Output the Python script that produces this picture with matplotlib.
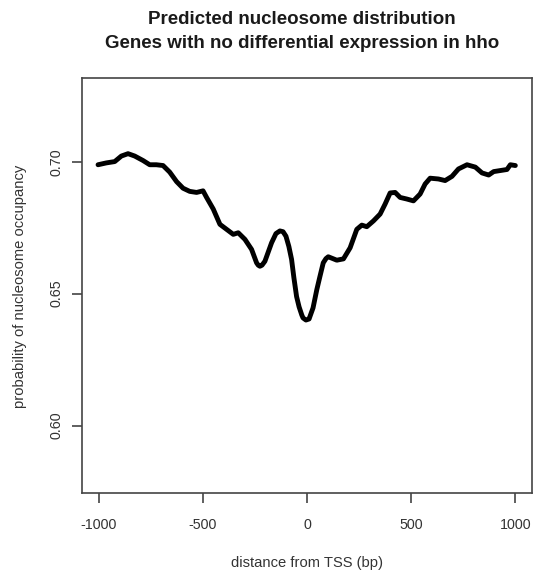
import matplotlib.pyplot as plt

plt.rcParams['font.family'] = ['Liberation Sans', 'DejaVu Sans']

# mean predicted occupancy around the TSS
distance = [-1003, -963, -923, -891, -859, -827, -787, -755, -723, -691,
            -659, -626, -595, -563, -530, -499, -482, -450, -418, -386,
            -354, -330, -298, -266, -242, -234, -226, -216, -202, -170,
            -149, -130, -115, -101, -87, -74, -63, -50, -38, -25,
            -19, -5, 10, 14, 29, 47, 62, 78, 91, 102,
            143, 175, 207, 239, 263, 287, 319, 351, 375, 399,
            423, 447, 479, 511, 543, 567, 591, 631, 663, 696,
            727, 768, 808, 840, 872, 896, 928, 960, 976, 1000]
occupancy = [0.6989, 0.6996, 0.7001, 0.7022, 0.7031, 0.7022, 0.7005, 0.6989, 0.6989, 0.6986,
             0.6961, 0.6925, 0.6900, 0.6888, 0.6884, 0.6890, 0.6865, 0.6821, 0.6763, 0.6744,
             0.6725, 0.6731, 0.6706, 0.6668, 0.6617, 0.6608, 0.6604, 0.6608, 0.6623, 0.6693,
             0.6728, 0.6738, 0.6735, 0.6718, 0.6679, 0.6630, 0.6561, 0.6489, 0.6450, 0.6419,
             0.6408, 0.6400, 0.6404, 0.6413, 0.6446, 0.6515, 0.6565, 0.6617, 0.6633, 0.6640,
             0.6627, 0.6632, 0.6674, 0.6744, 0.6760, 0.6754, 0.6776, 0.6802, 0.6840, 0.6882,
             0.6884, 0.6865, 0.6859, 0.6852, 0.6878, 0.6916, 0.6938, 0.6935, 0.6929, 0.6945,
             0.6973, 0.6989, 0.6980, 0.6958, 0.6950, 0.6963, 0.6967, 0.6971, 0.6989, 0.6986]

x_ticks = [-1000, -500, 0, 500, 1000]
y_ticks = [0.60, 0.65, 0.70]

W, H = 535, 575
fig = plt.figure(figsize=(W / 100, H / 100), dpi=100)
ax = fig.add_axes([82 / W, 1 - 493 / H, (532 - 82) / W, (493 - 78) / H])

ax.plot(distance, occupancy, color='black', lw=3.5,
        solid_joinstyle='round', solid_capstyle='round')

ax.set_xlim(-1080, 1080)
ax.set_ylim(0.5744, 0.7318)
ax.set_xticks(x_ticks)
ax.set_xticklabels(['-1000', '-500', '0', '500', '1000'])
ax.set_yticks(y_ticks)
ax.set_yticklabels(['0.60', '0.65', '0.70'], rotation=90, va='center')

for s in ax.spines.values():
    s.set_color('#444444')
    s.set_linewidth(1.2)
ax.tick_params(direction='out', length=7, width=1.2, color='#444444',
               labelsize=10.3, labelcolor='#333333')
ax.tick_params(axis='x', pad=11)
ax.tick_params(axis='y', pad=6)

fig.text(302 / W, 1 - 19 / H, 'Predicted nucleosome distribution',
         ha='center', va='center', fontsize=13.5, fontweight='bold', color='#1a1a1a')
fig.text(302 / W, 1 - 43 / H, 'Genes with no differential expression in hho',
         ha='center', va='center', fontsize=13.5, fontweight='bold', color='#1a1a1a')
fig.text(307 / W, 1 - 563 / H, 'distance from TSS (bp)',
         ha='center', va='center', fontsize=10.6, color='#333333')
fig.text(20 / W, 1 - 286 / H, 'probability of nucleosome occupancy',
         ha='center', va='center', rotation=90, fontsize=10.6, color='#333333')

fig.savefig('out.png', dpi=100)
